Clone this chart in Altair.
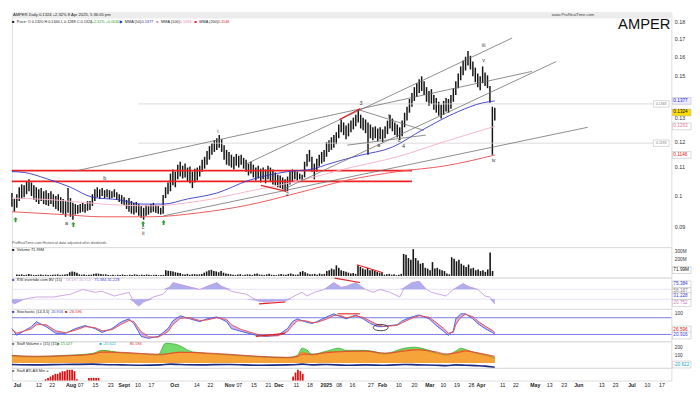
import altair as alt
import pandas as pd

W = 672
X_DOMAIN = [0, 270.4]          # trading-day index, 0 = 1 Jul 2024

# ---------------- price bars (daily high / low) ----------------
HIGH = [0.1007,0.0987,0.1003,0.1027,0.1037,0.1034,0.1048,0.1055,0.1044,0.1034,
        0.1027,0.1020,0.1024,0.1013,0.1017,0.1007,0.1013,0.1003,0.0997,0.1003,
        0.0993,0.0987,0.0980,0.1024,0.0990,0.0974,0.0970,0.0967,0.0970,0.0974,
        0.0970,0.0980,0.0980,0.1003,0.1020,0.1027,0.1020,0.1024,0.1017,0.1020,
        0.1017,0.1013,0.1020,0.1010,0.1003,0.1000,0.0993,0.0984,0.0990,0.0980,
        0.0974,0.0977,0.0970,0.0964,0.0958,0.0967,0.0964,0.0970,0.0974,0.0967,
        0.0964,0.0958,0.1000,0.1027,0.1044,0.1076,0.1091,0.1083,0.1109,0.1120,
        0.1105,0.1113,0.1098,0.1102,0.1083,0.1094,0.1098,0.1105,0.1128,0.1139,
        0.1162,0.1181,0.1193,0.1205,0.1213,0.1226,0.1209,0.1185,0.1166,0.1158,
        0.1147,0.1139,0.1150,0.1143,0.1147,0.1135,0.1128,0.1113,0.1120,0.1109,
        0.1098,0.1105,0.1094,0.1098,0.1091,0.1105,0.1098,0.1091,0.1080,0.1072,
        0.1069,0.1062,0.1055,0.1065,0.1083,0.1091,0.1087,0.1083,0.1076,0.1072,
        0.1120,0.1150,0.1166,0.1139,0.1113,0.1131,0.1147,0.1158,0.1166,0.1197,
        0.1205,0.1217,0.1226,0.1238,0.1271,0.1293,0.1280,0.1267,0.1276,0.1288,
        0.1301,0.1314,0.1336,0.1314,0.1301,0.1293,0.1280,0.1271,0.1259,0.1263,
        0.1254,0.1259,0.1250,0.1263,0.1288,0.1314,0.1297,0.1280,0.1271,0.1259,
        0.1288,0.1323,0.1350,0.1386,0.1414,0.1443,0.1462,0.1482,0.1497,0.1472,
        0.1443,0.1424,0.1433,0.1405,0.1391,0.1373,0.1359,0.1377,0.1391,0.1386,
        0.1405,0.1438,0.1472,0.1512,0.1548,0.1579,0.1600,0.1632,0.1605,0.1574,
        0.1542,0.1512,0.1497,0.1548,0.1517,0.1502,0.1448,0.1350,0.1345]
LOW = [0.0961,0.0945,0.0958,0.0980,0.0987,0.0993,0.1003,0.1013,0.0997,0.0984,
       0.0977,0.0970,0.0980,0.0970,0.0967,0.0964,0.0970,0.0961,0.0954,0.0948,
       0.0942,0.0939,0.0929,0.0942,0.0929,0.0920,0.0936,0.0939,0.0942,0.0945,
       0.0942,0.0948,0.0951,0.0964,0.0980,0.0993,0.0987,0.0997,0.0990,0.0993,
       0.0987,0.0990,0.0993,0.0984,0.0977,0.0970,0.0967,0.0954,0.0945,0.0939,
       0.0936,0.0942,0.0932,0.0926,0.0920,0.0932,0.0936,0.0942,0.0945,0.0942,
       0.0939,0.0936,0.0939,0.0990,0.1003,0.1013,0.1034,0.1027,0.1055,0.1065,
       0.1058,0.1062,0.1048,0.1041,0.1024,0.1044,0.1051,0.1065,0.1083,0.1094,
       0.1109,0.1128,0.1147,0.1158,0.1166,0.1174,0.1158,0.1128,0.1109,0.1105,
       0.1098,0.1091,0.1105,0.1098,0.1109,0.1094,0.1083,0.1069,0.1076,0.1062,
       0.1051,0.1058,0.1044,0.1055,0.1041,0.1055,0.1048,0.1037,0.1034,0.1027,
       0.1024,0.1020,0.1013,0.1013,0.1037,0.1048,0.1055,0.1051,0.1055,0.1051,
       0.1062,0.1102,0.1120,0.1083,0.1055,0.1083,0.1102,0.1113,0.1120,0.1139,
       0.1158,0.1166,0.1174,0.1189,0.1213,0.1238,0.1226,0.1209,0.1221,0.1238,
       0.1250,0.1263,0.1280,0.1254,0.1246,0.1234,0.1147,0.1213,0.1205,0.1213,
       0.1201,0.1209,0.1197,0.1213,0.1230,0.1254,0.1242,0.1226,0.1217,0.1205,
       0.1221,0.1259,0.1288,0.1323,0.1350,0.1377,0.1396,0.1414,0.1424,0.1405,
       0.1373,0.1354,0.1363,0.1336,0.1323,0.1310,0.1297,0.1314,0.1328,0.1323,
       0.1341,0.1373,0.1405,0.1438,0.1477,0.1502,0.1527,0.1553,0.1532,0.1497,
       0.1467,0.1443,0.1428,0.1462,0.1448,0.1438,0.1368,0.1147,0.1288]

# ---------------- volume (millions) ----------------
VOLUME_M = [18,14,20,12,15,22,16,12,10,14,18,12,15,10,12,14,16,20,12,15,18,22,
            45,55,50,40, 20,15,18,12,14,16, 25, 30,28,22,18,20,
            12,10,15,8,14,12,18,10,9,15,12,20,14,10,16,12,18,15,10,12,14,9,11,13,
            70,65,60,55,45,40,35, 20,18,25,15,20,22,18,20,25,
            40,55,70,75,60,55,45, 60,40,30,25,20,
            15,12,18,22,10,14,20,16,12,25,30,18,14,12,20,28,15,12,10,18,22,16,14,25,30,20,15,18,
            50,60,45,30,20, 20,25,15,30,20,25, 60,70,90,80,130,100,70,60,50,
            40,30,35,25, 130, 110,90,80,100,70,80,60,50,40,45,
            15,20,25,15,20,10,15,25, 270,260,220,200, 330, 220,190,150,160,
            100,90,70,170,90, 100,80,70,60, 30,20,230, 210,180,200,150,
            130,110,140, 90,100,70,80,60,70,50, 80, 290, 60]

# ---------------- moving averages ----------------
MA50_I = [0,5,14,24,33,44,53,62,72,84,97,113,124,129,142,156,168,183,193,198]
MA50 = [0.1083,0.1080,0.1058,0.1027,0.0993,0.0984,0.0970,0.0970,0.0987,0.1007,
        0.1051,0.1083,0.1094,0.1109,0.1143,0.1177,0.1246,0.1328,0.1368,0.1377]
MA100_I = [0,17,37,57,77,97,117,137,158,178,198]
MA100 = [0.0990,0.0984,0.0970,0.0964,0.0980,0.1013,0.1048,0.1094,0.1139,0.1201,0.1263]
MA200_I = [0,21,37,57,77,97,117,137,158,178,198]
MA200 = [0.0945,0.0936,0.0929,0.0929,0.0942,0.0967,0.1007,0.1051,0.1083,0.1105,0.1146]

# ---------------- drawings on the price chart ----------------
TREND_X1 = [26.9, 96.4, 111.3, 62.2, 142.3, 137.5]
TREND_P1 = [0.1087, 0.1113, 0.1020, 0.0932, 0.1336, 0.1185]
TREND_X2 = [213.2, 205.1, 223.2, 236.1, 168.9, 169.7]
TREND_P2 = [0.1522, 0.1705, 0.1574, 0.1259, 0.1246, 0.1226]
REDSEG_X1 = [134.3, 102.1]
REDSEG_P1 = [0.1293, 0.1034]
REDSEG_X2 = [142.8, 112.6]
REDSEG_P2 = [0.1341, 0.1013]
RED_LEVELS = [0.1087, 0.1048]
RED_LEVEL_END = 164
GRAY_LEVELS = [0.1363, 0.1193]
GRAY_LEVEL_START, GRAY_LEVEL_END = 51.8, 263
WAVE_TXT = ["a", "b", "c", "ii", "i", "2", "3", "a", "b", "c", "4", "iii", "v", "iv"]
WAVE_I = [22.4, 38.1, 53.8, 53.8, 84.4, 112.9, 143.1, 150.4, 154.8, 158.8, 160.6, 193.4, 193.4, 197.5]
WAVE_P = [0.0908, 0.1058, 0.0896, 0.0878, 0.1242, 0.1003, 0.1368, 0.1185, 0.1310, 0.1207, 0.1180, 0.1665, 0.1584, 0.1128]
ARROW_I = [1.5, 25.2, 53.8, 62.2]
ARROW_P = [0.0920, 0.0905, 0.0908, 0.0911]
PRICE_TICKS = [0.09, 0.1, 0.11, 0.12, 0.13, 0.15, 0.16, 0.17, 0.18]   # 0.14 sits under the MMA(50) tag

# ---------------- RSI ----------------
RSI_I = [0,1,5,10,17,24,29,34,37,42,48,50,52,54,58,62,65,66,72,77,80,84,86,90,96,101,104,108,
         112,115,119,121,124,128,132,135,137,141,145,148,151,155,159,161,164,167,170,172,178,181,
         185,187,191,194,196,198]
RSI = [22,16,31,38,38,47,62,53,56,41,53,22,9,22,38,47,72,84,72,62,72,84,72,56,47,25,22,25,
       25,38,53,41,53,62,84,69,72,84,62,53,62,53,38,69,84,88,62,53,41,62,
       81,72,62,41,38,16]
RSI_UPPER, RSI_LOWER = 62.5, 31
RSIR_X1, RSIR_V1, RSIR_X2, RSIR_V2 = [101.3, 132.3], [16, 98], [112.1, 142.7], [22, 84]

# ---------------- stochastic ----------------
STO_I = [0,2,8,10,14,18,22,26,30,34,37,41,45,48,50,53,56,60,64,66,69,73,77,80,84,88,90,94,100,104,
         109,113,115,117,120,123,125,129,132,135,137,141,144,147,150,152,155,158,160,164,
         167,171,174,177,179,181,182,184,186,189,191,194,197,198]
STO_K = [41,17,48,66,48,24,24,41,52,41,27,41,66,76,59,13,6,13,41,69,87,76,66,76,83,66,41,31,17,13,
         17,41,66,76,66,59,66,83,94,83,76,90,76,59,48,48,52,55,69,83,
         90,76,52,31,17,34,76,94,94,76,59,41,27,21]
STO_D = [38,25,40,55,55,33,26,35,48,45,33,37,57,70,66,30,12,10,30,55,78,80,70,72,80,74,55,38,22,15,
         15,30,52,68,70,63,63,75,88,87,80,86,82,68,55,50,50,53,62,78,
         87,82,63,42,25,28,55,82,92,84,68,50,35,27]
STOR_X1, STOR_V1, STOR_X2, STOR_V2 = [100, 133.5], [13, 94], [112, 142.7], [24, 94]
ELLIPSE_I, ELLIPSE_V = [151.2], [44.7]

# ---------------- volume oscillator ----------------
OSC_I = [0,9,21,33,37,45,53,61,65,69,77,89,101,113,117,119,123,129,137,145,153,161,166,174,178,182,186,190,194,198]
OSC_ORANGE = [88,75,88,113,150,125,113,100,125,138,125,100,75,63,88,138,100,138,150,150,113,163,175,125,100,138,163,125,100,63]
OSC_RED = [95,85,90,110,135,135,120,110,120,135,130,110,85,70,80,110,110,130,145,150,125,150,165,140,115,125,150,135,110,85]
OSC_NAVY = [-20,-25,-20,-15,-20,-25,-30,-25,-15,-20,-25,-20,-30,-25,-20,-15,-25,-20,-30,-25,-30,-20,-25,-30,-35,-25,-30,-35,-40,-55]
GREEN_I = [0,9,21,33,37,45,53,60,63,67,70,73,77,89,101,113,117,119,121,123,129,134,137,145,153,161,165,170,174,178,182,184,186,190,194,198]
GREEN = [95,80,95,120,160,130,115,105,250,238,200,150,130,105,80,70,95,188,163,110,150,188,160,160,120,188,200,170,130,105,150,188,170,130,105,70]

# ---------------- bottom indicator ----------------
ATLAS_I = [12,13,14,15,16,17,18,19,20,21,22,23,24,25,30,31,32,33,34,115,116,117,118,119]
ATLAS_V = [1,2,3,4,5,5,6,7,7,8,8,8,7,1,2,2,2,2,2,3,6,8,7,5]

# ---------------- x axis labels ----------------
AXIS_POS = [0, 9.0, 14.5, 22.4, 26.4, 32.5, 38.9, 44.5, 50.2, 55.8, 65.5, 74.7, 80.4, 88.4, 92.4, 98.5,
            104.5, 108.9, 116.2, 121.8, 128.6, 133.9, 139.5, 147.2, 152.0, 158.8, 165.3, 171.7, 177.3,
            183.0, 189.0, 193.0, 202.0, 207.5, 215.6, 221.6, 227.6, 233.7, 243.3, 249.0, 255.8, 262.3, 268.3]
AXIS_TXT = ["Jul","12","22","Aug","07","15","23","Sept","10","17","Oct","14","22","Nov","07","15",
            "21","Dec","11","18","2025","08","16","27","Feb","10","20","Mar","10",
            "19","28","Apr","11","22","May","13","23","Jun","13","23","Jul","10","17"]
MONTHS = ["Jul","Aug","Sept","Oct","Nov","Dec","2025","Feb","Mar","Apr","May","Jun"]

# =====================================================================
FONT = "Liberation Sans"
xs = alt.Scale(domain=X_DOMAIN, nice=False, zero=False)
ONE = pd.DataFrame({"k": [0]})
AXIS = {"cur": None}   # y axis shared by every layer of the panel being built


def X(f="i"):
    return alt.X(f + ":Q", scale=xs, axis=None)


def Y(f, sc):
    return alt.Y(f + ":Q", scale=sc, axis=AXIS["cur"])


def label(txt, x, y, size=4.2, color="#222", weight="normal", align="left", baseline="middle"):
    return alt.Chart(ONE).mark_text(text=txt, fontSize=size, color=color, fontWeight=weight,
                                    align=align, baseline=baseline, font=FONT).encode(
        x=alt.value(x), y=alt.value(y))


def segments(x1, v1, x2, v2, sc, color, width=0.8):
    df = pd.DataFrame({"x1": x1, "v1": v1, "x2": x2, "v2": v2})
    return alt.Chart(df).mark_rule(color=color, strokeWidth=width).encode(
        x=X("x1"), x2="x2:Q", y=Y("v1", sc), y2="v2:Q")


def line(i, v, sc, color, width=1.0, interp="monotone"):
    df = pd.DataFrame({"i": i, "v": v})
    return alt.Chart(df).mark_line(color=color, strokeWidth=width, interpolate=interp).encode(
        x=X(), y=Y("v", sc))


def tags(vals, texts, colors, fills, sc, lo, hi):
    df = pd.DataFrame({"v": vals, "t": texts, "c": colors, "f": fills, "lo": lo, "hi": hi})
    r = alt.Chart(df).mark_rect(stroke="#a0a0a0", strokeWidth=0.4).encode(
        x=alt.value(W + 1), x2=alt.value(W + 20), y=Y("lo", sc), y2="hi:Q",
        fill=alt.Fill("f:N", scale=None))
    t = alt.Chart(df).mark_text(fontSize=4.8, align="left", baseline="middle", font=FONT).encode(
        x=alt.value(W + 2), y=Y("v", sc), text="t:N", color=alt.Color("c:N", scale=None))
    return [r, t]


def right_axis(values, expr=None, size=5.2, fmt=None):
    kw = dict(orient="right", values=values, labelFontSize=size, labelPadding=3, ticks=False,
              domain=False, grid=False, labelOverlap=False, labelColor="#333", title=None,
              labelFont=FONT)
    if expr:
        kw["labelExpr"] = expr
    if fmt:
        kw["format"] = fmt
    return alt.Axis(**kw)


# ---------------- main price panel ----------------
ps = alt.Scale(type="log", domain=[0.08381, 0.18589], nice=False)
AXIS["cur"] = right_axis(PRICE_TICKS, None, 5.5, ".2~f")

df_bars = pd.DataFrame({"i": list(range(len(HIGH))), "hi": HIGH, "lo": LOW})
bars = alt.Chart(df_bars).mark_rule(color="#141414", strokeWidth=1.5).encode(
    x=X(), y=Y("lo", ps), y2="hi:Q")

df_red_lv = pd.DataFrame({"a": [0] * len(RED_LEVELS), "b": [RED_LEVEL_END] * len(RED_LEVELS), "p": RED_LEVELS})
red_levels = alt.Chart(df_red_lv).mark_rule(color="#ee2020", strokeWidth=1.8).encode(
    x=X("a"), x2="b:Q", y=Y("p", ps))
df_gray_lv = pd.DataFrame({"a": [GRAY_LEVEL_START] * 2, "b": [GRAY_LEVEL_END] * 2, "p": GRAY_LEVELS})
gray_levels = alt.Chart(df_gray_lv).mark_rule(color="#d2d2d2", strokeWidth=0.8).encode(
    x=X("a"), x2="b:Q", y=Y("p", ps))
df_gray_tag = pd.DataFrame({"a": [GRAY_LEVEL_END] * 2, "b": [GRAY_LEVEL_END + 6.5] * 2,
                            "lo": [p / 1.011 for p in GRAY_LEVELS], "hi": [p * 1.011 for p in GRAY_LEVELS],
                            "p": GRAY_LEVELS, "t": ["%.4f" % p for p in GRAY_LEVELS]})
gray_tag_box = alt.Chart(df_gray_tag).mark_rect(fill="white", stroke="#9a9a9a", strokeWidth=0.4).encode(
    x=X("a"), x2="b:Q", y=Y("lo", ps), y2="hi:Q")
gray_tag_txt = alt.Chart(df_gray_tag).mark_text(fontSize=3.6, color="#777", font=FONT).encode(
    x=alt.X("a:Q", scale=xs, axis=None), y=Y("p", ps), text="t:N", xOffset=alt.value(8))

df_waves = pd.DataFrame({"i": WAVE_I, "p": WAVE_P, "t": WAVE_TXT})
waves = alt.Chart(df_waves).mark_text(fontSize=5.5, color="#333", font=FONT).encode(
    x=X(), y=Y("p", ps), text="t:N")
ARROW = "M0,-1L0.85,-0.05L0.35,-0.05L0.35,1L-0.35,1L-0.35,-0.05L-0.85,-0.05Z"
df_arrows = pd.DataFrame({"i": ARROW_I, "p": ARROW_P})
arrows = alt.Chart(df_arrows).mark_point(shape=ARROW, filled=True, color="#2f9e2f", size=26, opacity=1).encode(
    x=X(), y=Y("p", ps))

header_bar = alt.Chart(ONE).mark_rect(color="#ececec").encode(
    x=alt.value(0), x2=alt.value(W), y=alt.value(0), y2=alt.value(6))

TAG_V = [0.1377, 0.1324, 0.1263, 0.1146]
main_tags = tags(TAG_V, ["%.4f" % v for v in TAG_V],
                 ["#2222c0", "#111111", "#e27aa0", "#e02020"], ["#eeeeff", "#ffdd00", "#ffffff", "#ffffff"],
                 ps, [v / 1.0115 for v in TAG_V], [v * 1.0115 for v in TAG_V])

main_layers = [
    bars, header_bar, gray_levels, red_levels,
    line(MA100_I, MA100, ps, "#f6b6cb", 1.0),
    line(MA200_I, MA200, ps, "#ee5a5a", 1.0),
    line(MA50_I, MA50, ps, "#3535c8", 0.9),
    segments(TREND_X1, TREND_P1, TREND_X2, TREND_P2, ps, "#707070", 0.8),
    segments(REDSEG_X1, REDSEG_P1, REDSEG_X2, REDSEG_P2, ps, "#e02020", 1.3),
    waves, arrows, gray_tag_box, gray_tag_txt,
    label("AMPER Daily 0.1324 +2.32% 8 Apr 2025, 5:36:05 pm", 1, 3, 4.2, "#222"),
    label("www.ProRealTime.com", W - 122, 3, 4.2, "#444"),
    label("\u25a0", 0, 10, 4.2, "#111"),
    label("Price: O 0.1320 H 0.1340 L 0.1288 C 0.1324", 5, 10, 3.9, "#222"),
    label("(+2.32% +0.0030)", 80, 10, 3.9, "#2a9a2a"),
    label("\u25a0", 110, 10, 4.2, "#2222c0"),
    label("MMA (50)", 115, 10, 3.9, "#222"),
    label("0.1377", 132, 10, 3.9, "#2222c0"),
    label("\u25a0", 147, 10, 4.2, "#f28ab0"),
    label("MMA (100)", 152, 10, 3.9, "#222"),
    label("0.1263", 171, 10, 3.9, "#e27aa0"),
    label("\u25a0", 186, 10, 4.2, "#e02020"),
    label("MMA (200)", 191, 10, 3.9, "#222"),
    label("0.1146", 210, 10, 3.9, "#e02020"),
    label("AMPER", W - 1, 17, 15, "#111", align="right", baseline="alphabetic"),
    label("ProRealTime.com Historical data adjusted after dividends", 0, 235, 3.8, "#555"),
] + main_tags
main = alt.layer(*main_layers).properties(width=W, height=239)

# ---------------- volume panel ----------------
vs = alt.Scale(domain=[-20, 355], nice=False, zero=False)
AXIS["cur"] = right_axis([200, 300], "datum.value + 'M'", 4.8)
df_vol = pd.DataFrame({"i": list(range(len(VOLUME_M))), "v": VOLUME_M, "z": [0] * len(VOLUME_M)})
vol_bars = alt.Chart(df_vol).mark_bar(color="#141414", width=1.6).encode(
    x=X(), y=Y("v", vs), y2="z:Q")
vol = alt.layer(
    vol_bars,
    segments([141.5], [137], [152.4], [40], vs, "#e02020", 1.1),
    label("\u25a0", 0, 3, 4.2, "#111"),
    label("Volume 71.99M", 5, 3, 4.0, "#222"),
    *tags([72], ["71.99M"], ["#111"], ["#ffffff"], vs, [30], [114]),
).properties(width=W, height=31)

# ---------------- RSI panel ----------------
rs = alt.Scale(domain=[0, 100], nice=False, zero=False)
AXIS["cur"] = right_axis([], None, 4.8)
df_rsi = pd.DataFrame({"i": RSI_I, "v": RSI,
                       "up": [max(v, RSI_UPPER) for v in RSI], "ub": [RSI_UPPER] * len(RSI),
                       "lo": [min(v, RSI_LOWER) for v in RSI], "lb": [RSI_LOWER] * len(RSI)})
rsi_up = alt.Chart(df_rsi).mark_area(color="#8c8ce6", opacity=0.7).encode(x=X(), y=Y("up", rs), y2="ub:Q")
rsi_lo = alt.Chart(df_rsi).mark_area(color="#8c8ce6", opacity=0.7).encode(x=X(), y=Y("lo", rs), y2="lb:Q")
rsi_line = alt.Chart(df_rsi).mark_line(color="#c99be0", strokeWidth=0.9).encode(x=X(), y=Y("v", rs))
rsi_bands = alt.Chart(pd.DataFrame({"b": [RSI_UPPER, RSI_LOWER]})).mark_rule(color="#dcd4f0", strokeWidth=0.7).encode(
    y=Y("b", rs))
rsi = alt.layer(
    rsi_bands, rsi_up, rsi_lo, rsi_line,
    segments(RSIR_X1, RSIR_V1, RSIR_X2, RSIR_V2, rs, "#e02020", 1.1),
    label("\u25a0", 0, 3, 4.2, "#5050d0"),
    label("RSI invertido com BV (15)", 5, 3, 4.0, "#222"),
    label("58.187  20.752", 55, 3, 4.0, "#c99be0"),
    label("75.384  31.228", 84, 3, 4.0, "#3b3bd0"),
    *tags([78, 56, 41, 19], ["75.384", "58.187", "31.228", "20.752"],
          ["#3b3bd0", "#888888", "#3b3bd0", "#d080c0"], ["#ffffff"] * 4, rs,
          [67, 45, 30, 8], [89, 67, 52, 30]),
).properties(width=W, height=32)

# ---------------- stochastic panel ----------------
ss = alt.Scale(domain=[-4.6, 111.6], nice=False, zero=False)
AXIS["cur"] = right_axis([100], None, 5.0)
df_sto = pd.DataFrame({"i": STO_I, "k": STO_K, "d": STO_D})
sto_fill = alt.Chart(df_sto).mark_area(color="#b58ee2", opacity=0.65).encode(x=X(), y=Y("k", ss), y2="d:Q")
sto_k = alt.Chart(df_sto).mark_line(color="#4656d6", strokeWidth=0.9).encode(x=X(), y=Y("k", ss))
sto_d = alt.Chart(df_sto).mark_line(color="#e84848", strokeWidth=0.9).encode(x=X(), y=Y("d", ss))
sto_bands = alt.Chart(pd.DataFrame({"b": [80, 20]})).mark_rule(color="#6a6ae2", strokeWidth=0.9).encode(y=Y("b", ss))
ELLIPSE = "M-1,0A1,0.42,0,1,0,1,0A1,0.42,0,1,0,-1,0Z"
sto_ell = alt.Chart(pd.DataFrame({"i": ELLIPSE_I, "v": ELLIPSE_V})).mark_point(
    shape=ELLIPSE, filled=False, color="#111", strokeWidth=0.8, size=230, opacity=1).encode(x=X(), y=Y("v", ss))
sto = alt.layer(
    sto_bands, sto_fill, sto_k, sto_d,
    segments(STOR_X1, STOR_V1, STOR_X2, STOR_V2, ss, "#e02020", 1.1),
    sto_ell,
    label("\u25a0", 0, 3, 4.2, "#3b3bd0"),
    label("Stochastic (14,3,5)", 5, 3, 4.0, "#222"),
    label("20.916", 40, 3, 4.0, "#3b3bd0"),
    label("\u25a0", 54, 3, 4.2, "#e02020"),
    label("26.596", 59, 3, 4.0, "#e02020"),
    *tags([37.7, 16.5], ["26.596", "20.916"], ["#e02020", "#3b3bd0"], ["#ffffff", "#ffffff"], ss,
          [25.4, 4.2], [50, 28.8]),
).properties(width=W, height=33)

# ---------------- volume oscillator panel ----------------
os_ = alt.Scale(domain=[-62.5, 275], nice=False, zero=False)
AXIS["cur"] = right_axis([100, 200], None, 4.8)
df_osc = pd.DataFrame({"i": OSC_I, "o": OSC_ORANGE, "z": [0] * len(OSC_I)})
df_green = pd.DataFrame({"i": GREEN_I, "g": GREEN, "z": [0] * len(GREEN_I)})
osc_green = alt.Chart(df_green).mark_area(color="#74dc6c", opacity=1, line={"color": "#2f9e2f", "strokeWidth": 0.7},
                                          interpolate="monotone").encode(x=X(), y=Y("g", os_), y2="z:Q")
osc_orange = alt.Chart(df_osc).mark_area(color="#f6a33a", opacity=1, line={"color": "#c97a10", "strokeWidth": 0.7},
                                         interpolate="monotone").encode(x=X(), y=Y("o", os_), y2="z:Q")
osc = alt.layer(
    osc_green, osc_orange,
    line(OSC_I, OSC_RED, os_, "#e53935", 0.8),
    line(OSC_I, OSC_NAVY, os_, "#1c2a80", 1.7),
    label("\u25a0", 0, 3, 4.2, "#777"),
    label("Staff Volume c (15) (15)", 5, 3, 4.0, "#222"),
    label("\u25a0 15.027", 46, 3, 4.0, "#2f9e2f"),
    label("\u25a0 -20.622", 89, 3, 4.0, "#19b5c8"),
    label("85.196", 120, 3, 4.0, "#e02020"),
    *tags([-20.6], ["-20.622"], ["#19a5c0"], ["#ffffff"], os_, [-64.6], [23.4]),
).properties(width=W, height=27)

# ---------------- bottom panel with x axis ----------------
bs = alt.Scale(domain=[0, 9.5], nice=False, zero=False)
AXIS["cur"] = None
expr = "".join("datum.value == %s ? '%s' : " % (p, t) for p, t in zip(AXIS_POS, AXIS_TXT)) + "''"
month_pos = [p for p, t in zip(AXIS_POS, AXIS_TXT) if t in MONTHS]
x_axis = alt.Axis(values=AXIS_POS, labelExpr=expr, labelFontSize=5.3, labelPadding=2, ticks=False,
                  domain=False, grid=False, labelOverlap=False, labelColor="#222", title=None,
                  labelFont=FONT,
                  labelFontWeight={"condition": {"test": "indexof(%s, datum.value) >= 0" % month_pos,
                                                 "value": "bold"}, "value": "normal"})
df_atlas = pd.DataFrame({"i": ATLAS_I, "v": ATLAS_V, "z": [0] * len(ATLAS_I)})
atlas = alt.Chart(df_atlas).mark_bar(color="#dd1111", width=1.8).encode(
    x=alt.X("i:Q", scale=xs, axis=x_axis), y=Y("v", bs), y2="z:Q")
bottom = alt.layer(
    atlas,
    label("\u25a0", 0, 3, 4.2, "#777"),
    label("Staff ATLAS Min =", 5, 3, 4.0, "#222"),
).properties(width=W, height=13)

chart = alt.vconcat(main, vol, rsi, sto, osc, bottom, spacing=0, bounds="flush").properties(
    padding=0, background="white"
).configure_view(stroke="#c4c4c4", strokeWidth=0.6).configure(font=FONT)

chart.save("out.html", embed_options={"renderer": "svg", "actions": False})
